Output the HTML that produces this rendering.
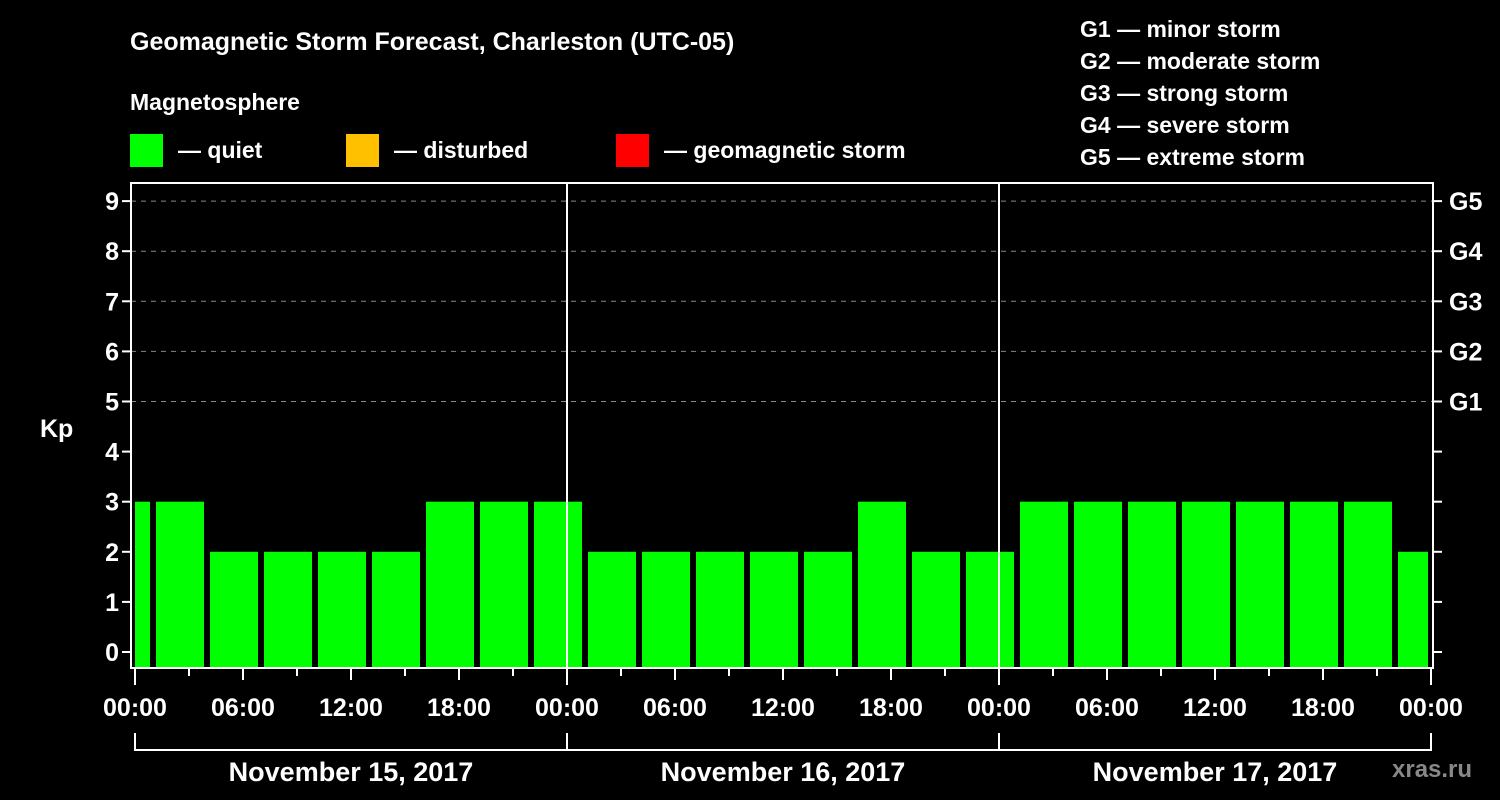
<!DOCTYPE html>
<html><head><meta charset="utf-8"><style>
html,body{margin:0;padding:0;background:#000;}
svg{display:block;font-family:"Liberation Sans",Arial,sans-serif;font-weight:bold;}
</style></head><body>
<svg id="chart" width="1500" height="800" xmlns="http://www.w3.org/2000/svg">
<rect width="1500" height="800" fill="#000"/>
<text x="130" y="50" fill="#fff" font-size="25">Geomagnetic Storm Forecast, Charleston (UTC-05)</text>
<text x="130" y="110" fill="#fff" font-size="23">Magnetosphere</text>
<g><rect x="130" y="134" width="33" height="33" fill="#00ff00"/><text x="178" y="158" fill="#fff" font-size="23">— quiet</text></g>
<g><rect x="346" y="134" width="33" height="33" fill="#ffc000"/><text x="394" y="158" fill="#fff" font-size="23">— disturbed</text></g>
<g><rect x="616" y="134" width="33" height="33" fill="#ff0000"/><text x="664" y="158" fill="#fff" font-size="23">— geomagnetic storm</text></g>
<g fill="#fff" font-size="23">
<text x="1080" y="37">G1 — minor storm</text>
<text x="1080" y="69">G2 — moderate storm</text>
<text x="1080" y="101">G3 — strong storm</text>
<text x="1080" y="133">G4 — severe storm</text>
<text x="1080" y="165">G5 — extreme storm</text>
</g>
<text x="40" y="437" fill="#fff" font-size="25">Kp</text>
<text x="1392" y="777" fill="#888" font-size="24">xras.ru</text>
<g id="grid"></g><g id="bars"></g><g id="axes"></g>
</svg>
<script>
const kpValues=[3,3,2,2,2,2,3,3,3,2,2,2,2,2,3,2,2,3,3,3,3,3,3,3,2];
const blockStartHours=[-2,1,4,7,10,13,16,19,22,25,28,31,34,37,40,43,46,49,52,55,58,61,64,67,70];
const yTicks=[0,1,2,3,4,5,6,7,8,9];
const gLabels=["G1","G2","G3","G4","G5"];
const gLevels=[5,6,7,8,9];
const xTickLabels=["00:00","06:00","12:00","18:00","00:00","06:00","12:00","18:00","00:00","06:00","12:00","18:00","00:00"];
const dayLabels=["November 15, 2017","November 16, 2017","November 17, 2017"];
const NS="http://www.w3.org/2000/svg";
const X0=135,PXH=18,Y0=652,PXU=50.1,L=131,R=1433,T=183,B=668;
const x=h=>X0+h*PXH, y=v=>Y0-v*PXU;
function mk(p,tag,a){const e=document.createElementNS(NS,tag);for(const k in a)e.setAttribute(k,a[k]);p.appendChild(e);return e;}
const grid=document.getElementById('grid'),bars=document.getElementById('bars'),axes=document.getElementById('axes');
yTicks.forEach(v=>{
 if(v>=5){const g=mk(grid,'line',{x1:L,x2:R,y1:y(v),y2:y(v),stroke:'#888','stroke-dasharray':'5,5','stroke-width':1});
 
 }
 mk(axes,'line',{x1:L-9,x2:L,y1:y(v),y2:y(v),stroke:'#fff','stroke-width':2});
 mk(axes,'line',{x1:R,x2:R+9,y1:y(v),y2:y(v),stroke:'#fff','stroke-width':2});
 const t=mk(axes,'text',{x:L-12,y:y(v)+9,fill:'#fff','font-size':25,'text-anchor':'end'});t.textContent=v;
 
 
});
gLabels.forEach((g,i)=>{const t=mk(axes,'text',{x:R+16,y:y(gLevels[i])+9,fill:'#fff','font-size':25});t.textContent=g;
 
 });
kpValues.forEach((v,i)=>{
 const s=Math.max(x(blockStartHours[i])+3,X0),e=Math.min(x(blockStartHours[i]+3)-3,x(72)-3);
 const r=mk(bars,'rect',{x:s,y:y(v),width:e-s,height:B-1-y(v),fill:'#00ff00'});
 
 
});
mk(axes,'rect',{x:L,y:T,width:R-L,height:B-T,fill:'none',stroke:'#fff','stroke-width':2});
[24,48].forEach(h=>mk(axes,'line',{x1:x(h),x2:x(h),y1:T,y2:B,stroke:'#fff','stroke-width':2}));
for(let h=0;h<=72;h+=3){mk(axes,'line',{x1:x(h),x2:x(h),y1:B,y2:B+(h%6===0?(h%24===0?17:12):8),stroke:'#fff','stroke-width':2});}
xTickLabels.forEach((l,i)=>{const t=mk(axes,'text',{x:x(i*6),y:716,fill:'#fff','font-size':25,'text-anchor':'middle'});t.textContent=l;
 
 });
mk(axes,'path',{d:`M${x(0)} 733V750H${x(72)}V733`,stroke:'#fff','stroke-width':2,fill:'none'});
[24,48].forEach(h=>mk(axes,'line',{x1:x(h),x2:x(h),y1:733,y2:750,stroke:'#fff','stroke-width':2}));
dayLabels.forEach((d,i)=>{const t=mk(axes,'text',{x:x(i*24+12),y:781,fill:'#fff','font-size':27,'text-anchor':'middle'});t.textContent=d;
 
 });
</script>
</body></html>
